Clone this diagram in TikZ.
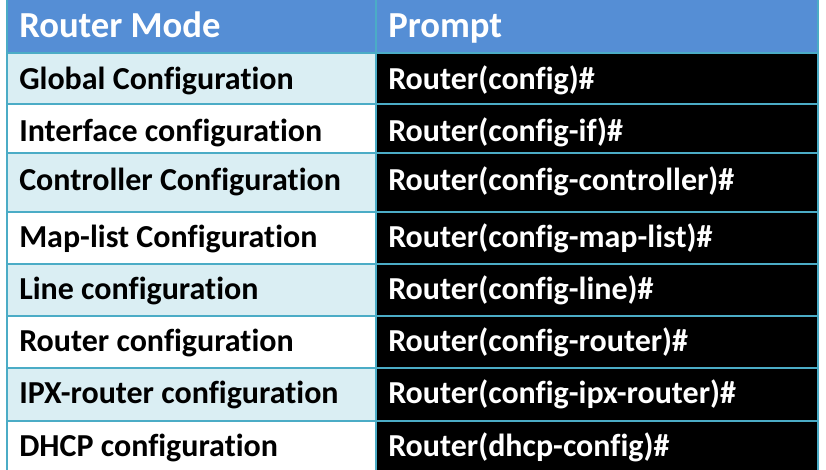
\documentclass[tikz,border=0pt]{standalone}
\usepackage{fontspec}
\setmainfont{Carlito}[Ligatures={NoCommon}]
\definecolor{hdr}{RGB}{85,142,213}
\definecolor{lb}{RGB}{218,238,243}
\definecolor{grid}{RGB}{75,172,198}
\begin{document}
\begin{tikzpicture}[x=0.75pt,y=-0.75pt,
  txt/.style={anchor=base west,inner sep=0pt,font=\bfseries\fontsize{24}{28}\selectfont},
  hd/.style={txt,text=white,font=\bfseries\fontsize{27.5}{32}\selectfont}]
\useasboundingbox (0,0) rectangle (826,470);
\fill[white] (0,0) rectangle (826,470);
\fill[hdr] (7,0) rectangle (818,53);
\foreach \a/\b [count=\i] in {53/104,104/153,153/212,212/264,264/316,316/368,368/421,421/470}{
  \ifodd\i \fill[lb] (7,\a) rectangle (376,\b); \fi
  \fill[black] (376,\a) rectangle (818,\b);
}
\foreach \y in {53,104,153,212,264,316,368,421}{\draw[grid,line width=1.2pt] (7,\y) -- (818,\y);}
\draw[grid,line width=1pt] (7,0) -- (7,470) (376,0) -- (376,470) (818,0) -- (818,470);
\node[hd] (h1) at (19,38) {Router Mode};
\node[hd] (h2) at (388,38) {Prompt};
\foreach \l/\r/\y [count=\i] in {
 Global Configuration/Router(config)\#/90,
 Interface configuration/Router(config-if)\#/142,
 Controller Configuration/Router(config-controller)\#/191,
 Map-list Configuration/Router(config-map-list)\#/248,
 Line configuration/Router(config-line)\#/300,
 Router configuration/Router(config-router)\#/352,
 IPX-router configuration/Router(config-ipx-router)\#/404,
 DHCP configuration/Router(dhcp-config)\#/457}{
  \node[txt] (l\i) at (19,\y) {\l};
  \node[txt,text=white] (r\i) at (388,\y) {\r};
}
\end{tikzpicture}
\end{document}
